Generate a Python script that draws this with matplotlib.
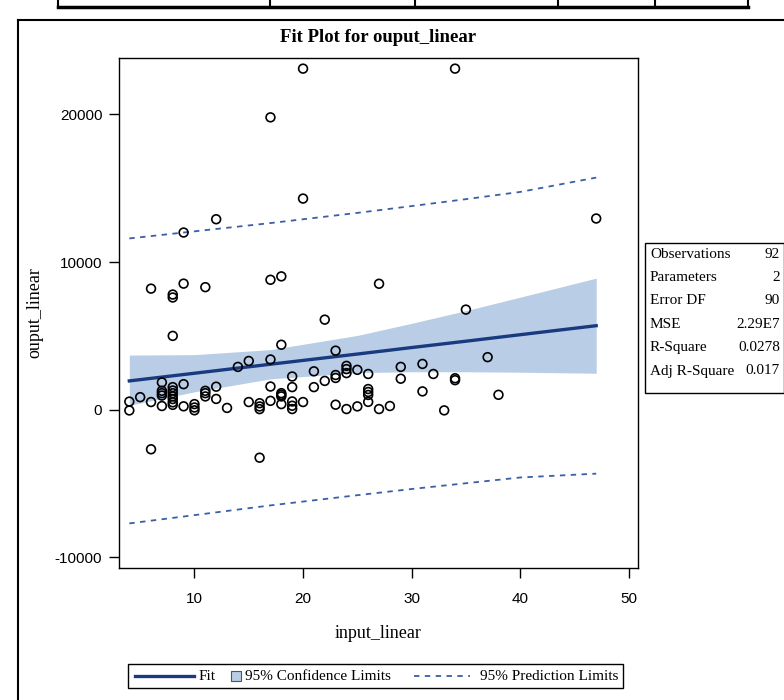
import matplotlib
matplotlib.use("Agg")
import matplotlib.pyplot as plt
from matplotlib.lines import Line2D
from matplotlib.patches import Rectangle

plt.rcParams["font.family"] = ["Liberation Serif", "DejaVu Serif"]
plt.rcParams["axes.unicode_minus"] = False

# ---------- data ----------
obs_x = [4, 4, 5, 6, 6, 6, 7, 7, 7, 7, 7,
         8, 8, 8, 8, 8, 8, 8, 8, 8, 8,
         9, 9, 9, 9, 10, 10, 10, 11, 11, 11, 11,
         12, 12, 12, 13, 14, 15, 15, 16, 16, 16, 16,
         17, 17, 17, 17, 17, 18, 18, 18, 18, 18, 18,
         19, 19, 19, 19, 19, 20, 20, 20, 21, 21, 22, 22,
         23, 23, 23, 23, 24, 24, 24, 24, 25, 25,
         26, 26, 26, 26, 26, 27, 27, 28, 29, 29, 31, 31,
         32, 33, 34, 34, 34, 35, 37, 38, 47]
obs_y = [550, -50, 850, 8200, 520, -2680, 1850, 1280, 1120, 960, 250,
         7800, 7600, 5000, 1530, 1300, 1120, 900, 720, 500, 330,
         12000, 8540, 1730, 230, 380, 150, -40, 8300, 1280, 1120, 900,
         12900, 1560, 730, 120, 2900, 3300, 520, 440, 220, 40, -3250,
         19800, 8800, 3400, 1570, 600, 9030, 4400, 1120, 1010, 900, 380,
         2250, 1530, 560, 270, 45, 23100, 14300, 520, 2600, 1530, 6100, 1950,
         4000, 2350, 2150, 340, 2970, 2750, 2480, 45, 2700, 225,
         2420, 1400, 1200, 1000, 530, 8530, 45, 250, 2900, 2100, 3100, 1240,
         2420, -45, 23100, 2130, 2000, 6780, 3560, 1010, 12950]

band_x = [4, 10, 17, 25, 30, 35, 40, 47]
fit_y = [1950, 2470, 3080, 3770, 4210, 4640, 5080, 5690]
ci_lo = [300, 1210, 2090, 2510, 2570, 2570, 2540, 2470]
ci_hi = [3700, 3730, 4070, 5030, 5850, 6710, 7620, 8910]
pi_lo = [-7700, -7140, -6480, -5790, -5370, -4980, -4590, -4330]
pi_hi = [11600, 12080, 12640, 13330, 13790, 14260, 14750, 15720]

stat_names = ["Observations", "Parameters", "Error DF", "MSE", "R-Square", "Adj R-Square"]
stat_values = ["92", "2", "90", "2.29E7", "0.0278", "0.017"]

x_ticks = [10, 20, 30, 40, 50]
y_ticks = [-10000, 0, 10000, 20000]

FIT_C = "#1a3a80"
CI_C = "#b9cde7"
PI_C = "#3a5fa6"
TICK_FONT = ["Liberation Sans", "DejaVu Sans"]

W, H = 784, 700
fig = plt.figure(figsize=(W / 100, H / 100), dpi=100)

def fx(px):
    return px / W

def fy(py):
    return 1 - py / H

ax = fig.add_axes([fx(119), fy(568), fx(519), 510 / H])

ax.fill_between(band_x, ci_lo, ci_hi, color=CI_C, lw=0, zorder=1)
ax.plot(band_x, pi_hi, color=PI_C, lw=1.3, ls=(0, (3, 3)), zorder=2)
ax.plot(band_x, pi_lo, color=PI_C, lw=1.3, ls=(0, (3, 3)), zorder=2)
ax.plot(band_x, fit_y, color=FIT_C, lw=2.4, zorder=3)
ax.scatter(obs_x, obs_y, s=40, facecolors="none", edgecolors="black",
           linewidths=1.2, zorder=4)

ax.set_xlim(3.05, 50.85)
ax.set_ylim(-10720, 23820)
ax.set_xticks(x_ticks)
ax.set_yticks(y_ticks)
ax.tick_params(length=7, width=1, direction="out", pad=5)
ax.tick_params(axis="x", pad=10)
for lab in ax.get_xticklabels() + ax.get_yticklabels():
    lab.set_family(TICK_FONT)
    lab.set_fontsize(11)
for s in ax.spines.values():
    s.set_linewidth(1)
ax.set_xlabel("input_linear", fontsize=13)
ax.set_ylabel("ouput_linear", fontsize=13)
ax.xaxis.set_label_coords(0.5, -(633 - 568) / 510)
ax.yaxis.set_label_coords((35 - 119) / 519, 0.5)
ax.xaxis.label.set_va("center")
ax.yaxis.label.set_va("center")

fig.text(fx(378), fy(37), "Fit Plot for ouput_linear", ha="center", va="center",
         fontsize=13.5, fontweight="bold")

# fit statistics inset
fig.add_artist(Rectangle((fx(645), fy(393)), fx(784 - 645), (393 - 243) / H,
                         transform=fig.transFigure, fill=False, ec="black", lw=1))
for i, (n, v) in enumerate(zip(stat_names, stat_values)):
    yy = fy(254 + i * 23.4)
    fig.text(fx(650), yy, n, ha="left", va="center", fontsize=11)
    fig.text(fx(780), yy, v, ha="right", va="center", fontsize=11)

# legend, laid out like the SAS one
ly = fy(676)
fig.add_artist(Rectangle((fx(128), fy(688)), fx(623 - 128), 24 / H,
                         transform=fig.transFigure, fill=False, ec="black", lw=1))
fig.add_artist(Line2D([fx(135), fx(194)], [ly, ly], color=FIT_C, lw=2.4))
fig.text(fx(199), ly, "Fit", ha="left", va="center", fontsize=11)
fig.add_artist(Rectangle((fx(231), fy(681)), fx(10), 10 / H, transform=fig.transFigure,
                         fc=CI_C, ec="#555555", lw=0.8))
fig.text(fx(245), ly, "95% Confidence Limits", ha="left", va="center", fontsize=11)
fig.add_artist(Line2D([fx(414), fx(470)], [ly, ly], color=PI_C, lw=1.3, ls=(0, (3, 3))))
fig.text(fx(480), ly, "95% Prediction Limits", ha="left", va="center", fontsize=11)

# page frame around the graph and the table strip above it
fig.add_artist(Line2D([fx(18), fx(18)], [fy(20), 0], color="black", lw=1.5))
fig.add_artist(Line2D([fx(18), 1], [fy(20), fy(20)], color="black", lw=1.5))
fig.add_artist(Line2D([fx(58), fx(748)], [fy(7), fy(7)], color="black", lw=2.5))
for px in [58, 270, 415, 558, 655, 748]:
    fig.add_artist(Line2D([fx(px), fx(px)], [fy(7), 1], color="black", lw=1.5))

fig.savefig("out.png", dpi=100)
